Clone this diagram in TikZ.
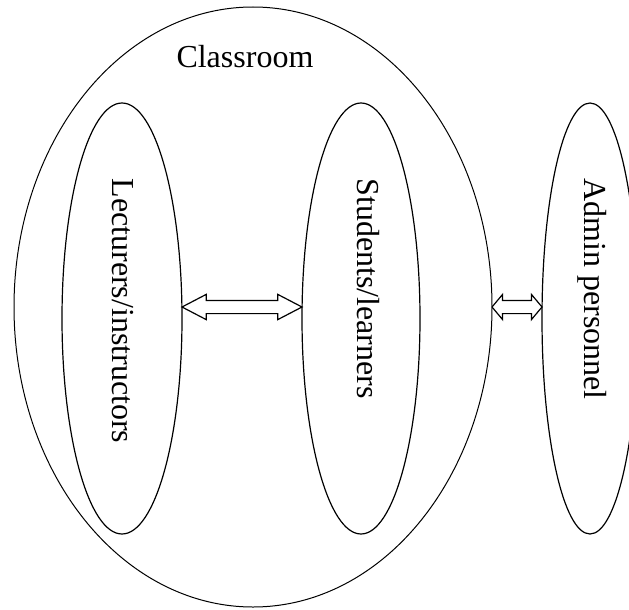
\documentclass[tikz,border=0pt]{standalone}
\usepackage{fontspec}
\setmainfont{Liberation Serif}
\usetikzlibrary{shapes.geometric,shapes.arrows}
\begin{document}
\begin{tikzpicture}[x=1pt,y=-1pt,line width=1pt,
	oval_node/.style={ellipse,draw,inner sep=0pt,minimum height=431pt,line width=1.2pt},
	label_node/.style={font=\fontsize{32}{38}\selectfont,inner sep=0pt},
	link_node/.style={double arrow,draw,inner sep=6pt,line width=1.2pt,double arrow head extend=6pt}]

		\fill[white] (0,0) rectangle (629,610);
		\useasboundingbox (0,0) rectangle (629,610);

		\node[oval_node,minimum width=478pt,minimum height=600pt,line width=1pt] (1) at (253,307) {};
		\node[oval_node,minimum width=120pt] (2) at (122,318.5) {};
		\node[oval_node,minimum width=118pt] (3) at (361,318.5) {};
		\node[oval_node,minimum width=96pt] (4) at (590,318.5) {};

		\node[label_node,anchor=west] (5) at (176,57) {Classroom};
		\node[label_node,rotate=-90,anchor=west] (6) at (123,178) {Lecturers/instructors};
		\node[label_node,rotate=-90,anchor=west] (7) at (368,178) {Students/learners};
		\node[label_node,rotate=-90,anchor=west] (8) at (592,178) {Admin personnel};

		\node[link_node,minimum height=120pt,double arrow tip angle=55] (9) at (242,307) {};
		\node[link_node,minimum height=50pt,double arrow tip angle=100] (10) at (517,307) {};
		\end{tikzpicture}
\end{document}
